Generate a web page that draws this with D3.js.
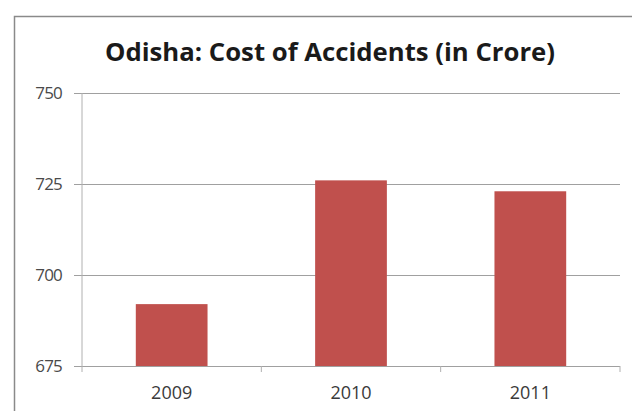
<!DOCTYPE html>
<html>
<head>
<meta charset="utf-8">
<script src="https://cdn.jsdelivr.net/npm/d3@7"></script>
<style>
  body { margin: 0; background: #fff; }
  svg { display: block; }
</style>
</head>
<body>
<div id="chart"></div>
<script>
// Data
var years = ["2009", "2010", "2011"];
var costs = [692, 726, 723];
var yTicks = [675, 700, 725, 750];

var width = 632, height = 411;
var margin = {top: 93, right: 12, bottom: 45, left: 82};
var plotW = 620 - margin.left;
var plotH = 366 - margin.top;

var svg = d3.select("#chart")
    .append("svg")
    .attr("width", width)
    .attr("height", height);

// Chart frame (runs off the right and bottom edges)
svg.append("rect")
    .attr("x", 14.5)
    .attr("y", 16.5)
    .attr("width", 640)
    .attr("height", 420)
    .attr("fill", "#fff")
    .attr("stroke", "#8a8a8a")
    .attr("stroke-width", 1.5);

// Title
svg.append("text")
    .attr("x", 330)
    .attr("y", 61)
    .attr("text-anchor", "middle")
    .attr("font-family", "'Open Sans', sans-serif")
    .attr("font-weight", "bold")
    .attr("font-size", "25px")
    .attr("fill", "#1a1a1a")
    .attr("textLength", 450)
    .attr("lengthAdjust", "spacingAndGlyphs")
    .text("Odisha: Cost of Accidents (in Crore)");

var g = svg.append("g")
    .attr("transform", "translate(" + margin.left + "," + margin.top + ")");

var xScale = d3.scaleBand()
    .domain(years)
    .range([0, plotW])
    .paddingInner(0.6)
    .paddingOuter(0.3);

var yScale = d3.scaleLinear()
    .domain([675, 750])
    .range([plotH, 0]);

// Gridlines with outside tick marks
var yAxis = d3.axisLeft(yScale)
    .tickValues(yTicks)
    .tickSize(-plotW)
    .tickPadding(12)
    .tickFormat(d3.format("d"));

var yg = g.append("g").call(yAxis);
yg.select(".domain").remove();
yg.selectAll(".tick line")
    .attr("x1", -8)
    .attr("stroke", "#a0a0a0")
    .attr("stroke-width", 1.2);
yg.selectAll(".tick text")
    .attr("x", -20)
    .attr("font-family", "'Open Sans', sans-serif")
    .attr("font-size", "17px")
    .attr("fill", "#4a4a4a")
    .attr("letter-spacing", "-0.8px");

// Vertical axis line
g.append("line")
    .attr("x1", 0).attr("x2", 0)
    .attr("y1", 0).attr("y2", plotH + 6)
    .attr("stroke", "#b0b0b0")
    .attr("stroke-width", 1);

// Bars
g.selectAll("rect.bar")
    .data(costs)
    .enter()
    .append("rect")
    .attr("class", "bar")
    .attr("x", function(d, i) { return xScale(years[i]); })
    .attr("y", function(d) { return yScale(d); })
    .attr("width", xScale.bandwidth())
    .attr("height", function(d) { return plotH - yScale(d); })
    .attr("fill", "#c0504d");

// Category axis
var step = plotW / years.length;
var xAxis = d3.axisBottom(xScale).tickSize(0).tickPadding(20);
var xg = g.append("g")
    .attr("transform", "translate(0," + plotH + ")")
    .call(xAxis);
xg.select(".domain").remove();
xg.selectAll(".tick text")
    .attr("font-family", "'Open Sans', sans-serif")
    .attr("font-size", "18px")
    .attr("fill", "#3a3a3a");

// Category separators below the axis
g.selectAll("line.sep")
    .data(d3.range(1, years.length + 1))
    .enter()
    .append("line")
    .attr("class", "sep")
    .attr("x1", function(d) { return d * step; })
    .attr("x2", function(d) { return d * step; })
    .attr("y1", plotH)
    .attr("y2", plotH + 6)
    .attr("stroke", "#b0b0b0");
</script>
</body>
</html>
